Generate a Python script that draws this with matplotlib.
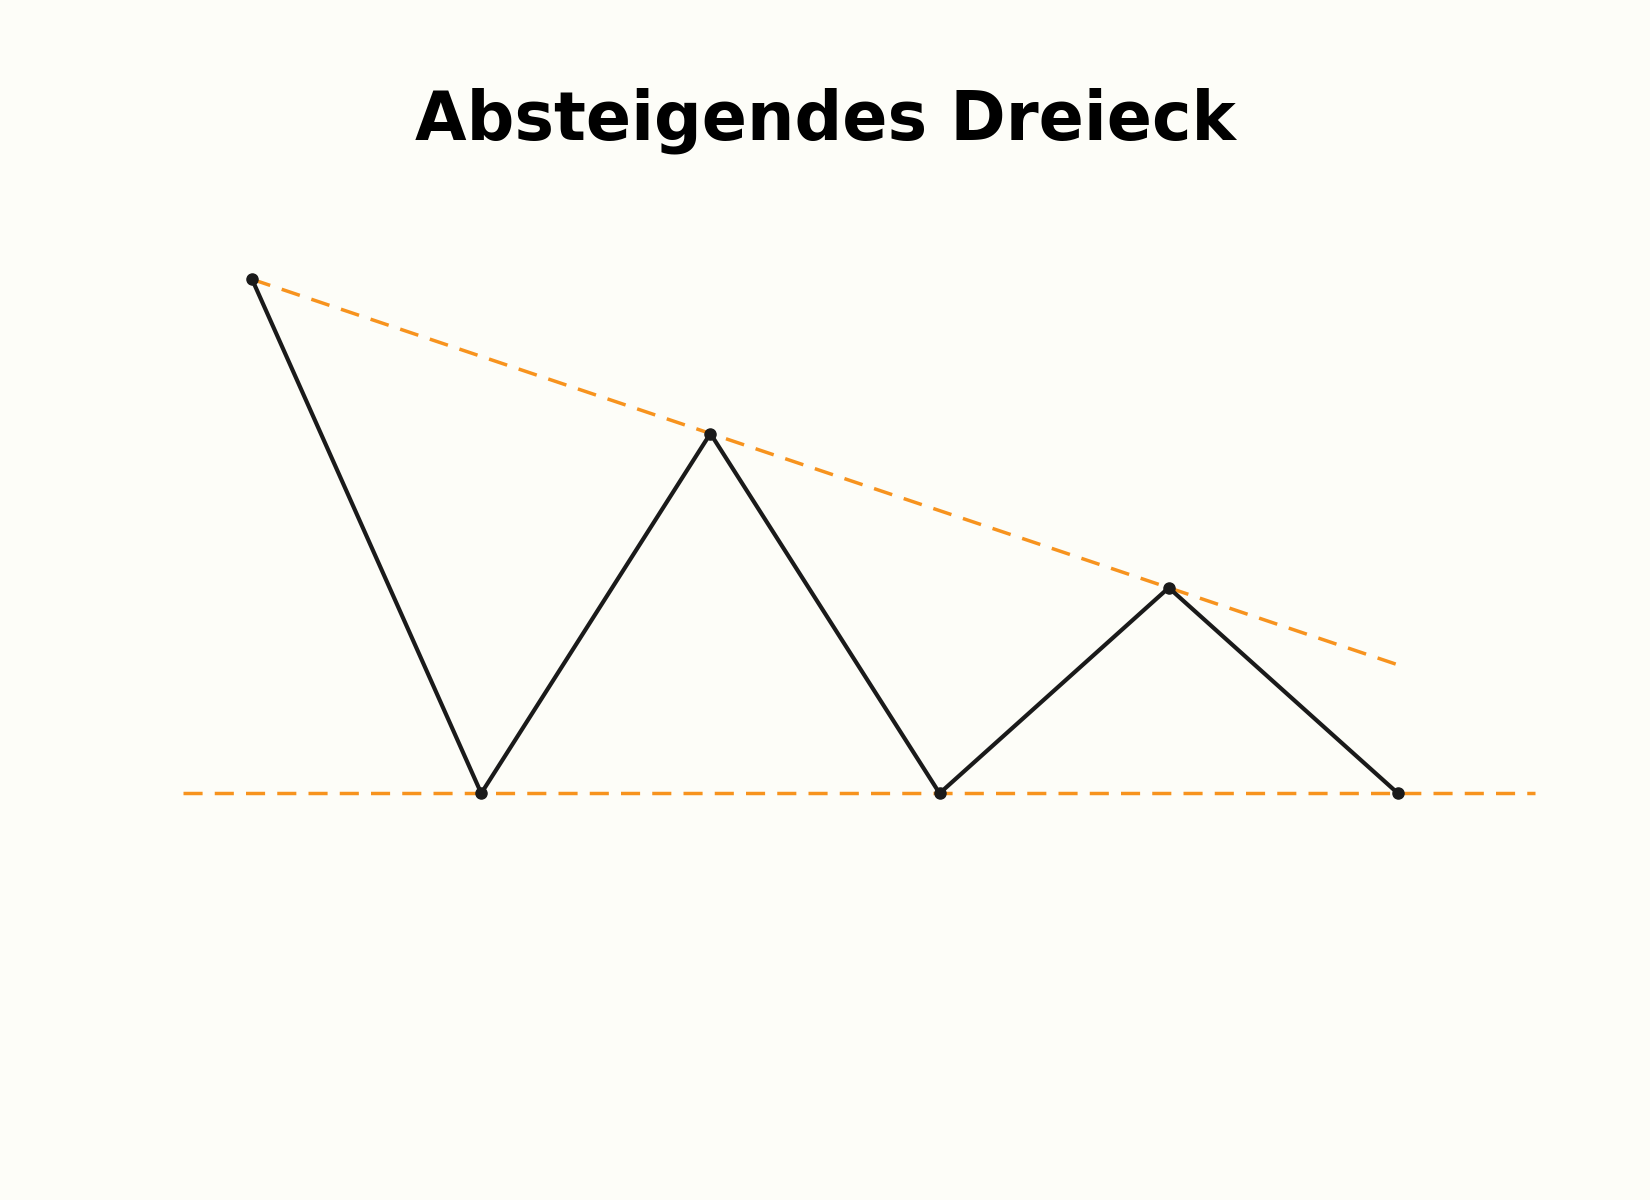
import numpy as np
import matplotlib
matplotlib.use('Agg')
import matplotlib.pyplot as plt

# Kursverlauf (Zickzack) und Trendlinien
x = [0, 1, 2, 3, 4, 5]
price = [5.0, 0.0, 3.5, 0.0, 2.0, 0.0]
resist_x = [0, 5]
resist_y = [5.0, 1.25]
support_level = 0.0
support_span = [-0.3, 5.6]

title = "Absteigendes Dreieck"

bg = '#fdfdf8'
orange = '#f7931e'
dark = '#1a1a1a'

fig = plt.figure(figsize=(16.5, 12), dpi=100, facecolor=bg)
ax = fig.add_axes([0, 0, 1, 1])
ax.set_facecolor(bg)

ax.hlines(support_level, support_span[0], support_span[1], colors=orange,
          linewidth=2.5, linestyles=(0, (5.5, 3.5)), zorder=1)
ax.plot(resist_x, resist_y, color=orange, linewidth=2.5,
        linestyle=(0, (5.5, 3.5)), zorder=1)
ax.plot(x, price, color=dark, linewidth=3.0, marker='o', markersize=8,
        zorder=2)

ax.set_xlim(-1.1, 6.1)
ax.set_ylim(-3.956, 7.717)
ax.axis('off')

fig.text(0.5, 1 - 139.3 / 1200, title, ha='center', va='baseline',
         fontsize=48, fontweight='bold', color='black')

fig.savefig('out.png', dpi=100, facecolor=bg)
